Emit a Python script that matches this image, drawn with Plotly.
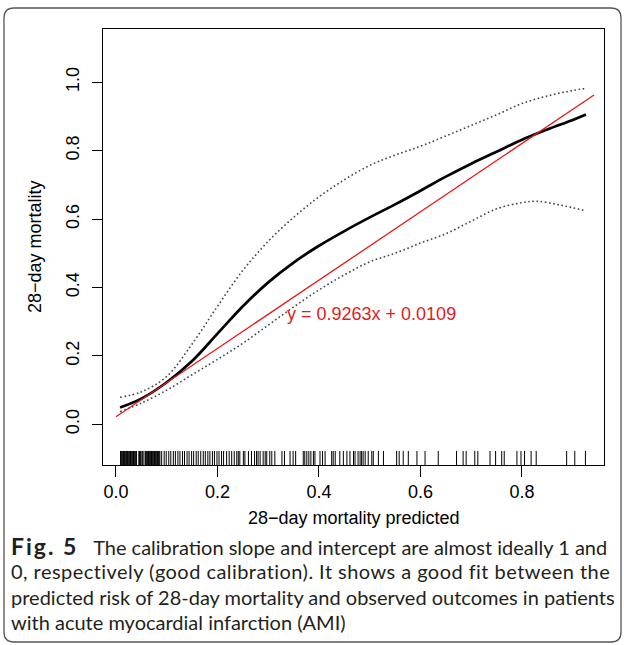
import plotly.graph_objects as go

# ---------------- data ----------------
x_ticks = [0.0, 0.2, 0.4, 0.6, 0.8]
x_tick_labels = ["0.0", "0.2", "0.4", "0.6", "0.8"]
y_ticks = [0.0, 0.2, 0.4, 0.6, 0.8, 1.0]
y_tick_labels = ["0.0", "0.2", "0.4", "0.6", "0.8", "1.0"]

curve_x = [0.008, 0.05, 0.1, 0.15, 0.2, 0.25, 0.3, 0.35, 0.4, 0.45, 0.5,
           0.55, 0.6, 0.65, 0.7, 0.75, 0.8, 0.85, 0.9, 0.926]
curve_y = [0.049, 0.075, 0.123, 0.185, 0.265, 0.345, 0.415, 0.473, 0.522, 0.565, 0.605,
           0.643, 0.683, 0.724, 0.762, 0.797, 0.832, 0.862, 0.89, 0.906]

upper_x = curve_x
upper_y = [0.079, 0.095, 0.14, 0.235, 0.345, 0.45, 0.535, 0.605, 0.665, 0.715, 0.757,
           0.787, 0.813, 0.843, 0.874, 0.905, 0.938, 0.96, 0.976, 0.982]

lower_x = [0.008, 0.05, 0.1, 0.15, 0.2, 0.25, 0.3, 0.35, 0.4, 0.45, 0.5,
           0.55, 0.6, 0.65, 0.7, 0.75, 0.8, 0.83, 0.875, 0.924]
lower_y = [0.037, 0.062, 0.1, 0.145, 0.19, 0.237, 0.29, 0.343, 0.393, 0.437, 0.475,
           0.5, 0.53, 0.557, 0.594, 0.63, 0.648, 0.652, 0.641, 0.625]

fit_x = [0.0, 0.942]
fit_y = [0.022, 0.963]
fit_label = "y = 0.9263x + 0.0109"

rug_values = [
    0.009, 0.0105, 0.012, 0.0135, 0.015, 0.0165, 0.018, 0.0195, 0.021, 0.0225,
    0.024, 0.0255, 0.027, 0.0285, 0.030, 0.0315, 0.033, 0.0345, 0.036, 0.0375,
    0.039, 0.0405, 0.045, 0.0465, 0.048, 0.0495, 0.052, 0.055, 0.058, 0.0595,
    0.061, 0.0625, 0.064, 0.0655, 0.067, 0.0685, 0.070, 0.0715, 0.073, 0.0745,
    0.076, 0.0775, 0.079, 0.0805, 0.082, 0.0835, 0.085, 0.0865,
    0.090, 0.095, 0.099, 0.104, 0.108, 0.113, 0.117, 0.122, 0.126, 0.131,
    0.135, 0.140, 0.144, 0.149, 0.153, 0.158, 0.162, 0.167, 0.172, 0.176,
    0.181, 0.185, 0.190, 0.194, 0.199, 0.203, 0.208, 0.212,
    0.218, 0.223, 0.228, 0.233, 0.238, 0.241, 0.244, 0.251, 0.254, 0.261,
    0.267, 0.273, 0.277, 0.280, 0.284, 0.290, 0.294, 0.297, 0.303, 0.307,
    0.313, 0.327, 0.332, 0.343, 0.349, 0.354, 0.369, 0.372, 0.376, 0.380,
    0.384, 0.389, 0.392, 0.402, 0.407, 0.412, 0.425, 0.428, 0.432, 0.441,
    0.448, 0.455, 0.461, 0.468, 0.471, 0.477, 0.481, 0.484, 0.487, 0.491,
    0.497, 0.504, 0.507, 0.517, 0.527, 0.553, 0.558, 0.566, 0.576, 0.593,
    0.609, 0.635, 0.671, 0.684, 0.690, 0.707, 0.713, 0.737, 0.748, 0.760,
    0.765, 0.790, 0.798, 0.805, 0.818, 0.828, 0.888, 0.904, 0.925,
]

x_title = "28\u2212day mortality predicted"
y_title = "28\u2212day mortality"
caption_lines = [
    "<span style='font-size:23px;letter-spacing:2px'><b>Fig.\u00a05</b></span>\u00a0\u00a0\u00a0The calibration slope and intercept are almost ideally 1 and",
    "<span style='letter-spacing:0.45px'>0, respectively (good calibration). It shows a good fit between the</span>",
    "predicted risk of 28-day mortality and observed outcomes in patients",
    "with acute myocardial infarction (AMI)",
]

# ---------------- layout geometry ----------------
W, H = 624, 645
ML, MR, MT, MB = 103, 20, 29, 180
PW, PH = W - ML - MR, H - MT - MB
XR = [-0.0256, 0.9616]
YR = [-0.119, 1.1558]
RUG_TOP = -0.078


def px_x(px):
    return (px - ML) / PW


def px_y(py):
    return (H - MB - py) / PH


AX_FONT = dict(family="Liberation Sans, Arial, sans-serif", size=18, color="black")

fig = go.Figure()

# rug
rx, ry = [], []
for v in rug_values:
    rx += [v, v, None]
    ry += [YR[0], RUG_TOP, None]
fig.add_trace(go.Scatter(x=rx, y=ry, mode="lines",
                         line=dict(color="black", width=1), hoverinfo="skip"))

# confidence bands
fig.add_trace(go.Scatter(x=upper_x, y=upper_y, mode="lines",
                         line=dict(color="#444444", width=1.6, dash="1.6px,2.6px", shape="spline")))
fig.add_trace(go.Scatter(x=lower_x, y=lower_y, mode="lines",
                         line=dict(color="#444444", width=1.6, dash="1.6px,2.6px", shape="spline")))
# calibration curve
fig.add_trace(go.Scatter(x=curve_x, y=curve_y, mode="lines",
                         line=dict(color="black", width=2.7, shape="spline")))
# fitted line
fig.add_trace(go.Scatter(x=fit_x, y=fit_y, mode="lines",
                         line=dict(color="#e41a1c", width=1.3)))

fig.add_annotation(x=0.503, y=0.323, xref="x", yref="y", text=fit_label,
                   showarrow=False, font=dict(family=AX_FONT["family"], size=18, color="#e41a1c"))

# axis titles
fig.add_annotation(x=0.5, y=px_y(518), xref="paper", yref="paper", text=x_title,
                   showarrow=False, font=AX_FONT, xanchor="center", yanchor="middle")
fig.add_annotation(x=px_x(35), y=0.5, xref="paper", yref="paper", text=y_title,
                   showarrow=False, font=AX_FONT, textangle=-90, xanchor="center", yanchor="middle")

# caption
cap_y = [546, 571, 597, 622]
for line, cy in zip(caption_lines, cap_y):
    fig.add_annotation(x=px_x(9), y=px_y(cy), xref="paper", yref="paper", text=line,
                       showarrow=False, xanchor="left", yanchor="middle",
                       font=dict(family="Lato, Open Sans, sans-serif", size=20, color="#231f20"))

# outer rounded border
x0, x1, y0, y1, r = 4, 621, 8, 642, 10
path = (f"M {px_x(x0 + r)},{px_y(y0)} L {px_x(x1 - r)},{px_y(y0)} "
        f"Q {px_x(x1)},{px_y(y0)} {px_x(x1)},{px_y(y0 + r)} "
        f"L {px_x(x1)},{px_y(y1 - r)} Q {px_x(x1)},{px_y(y1)} {px_x(x1 - r)},{px_y(y1)} "
        f"L {px_x(x0 + r)},{px_y(y1)} Q {px_x(x0)},{px_y(y1)} {px_x(x0)},{px_y(y1 - r)} "
        f"L {px_x(x0)},{px_y(y0 + r)} Q {px_x(x0)},{px_y(y0)} {px_x(x0 + r)},{px_y(y0)} Z")
fig.add_shape(type="path", path=path, xref="paper", yref="paper",
              line=dict(color="#555555", width=1.3), layer="below")

fig.update_layout(
    width=W, height=H,
    margin=dict(l=ML, r=MR, t=MT, b=MB, pad=0),
    plot_bgcolor="white", paper_bgcolor="white",
    showlegend=False,
    xaxis=dict(range=XR, tickvals=x_ticks, ticktext=x_tick_labels, ticks="outside",
               ticklen=11, tickwidth=1, tickcolor="black", showline=True, mirror=True,
               linecolor="black", linewidth=1.2, showgrid=False, zeroline=False,
               tickfont=AX_FONT, ticklabelstandoff=-1),
    yaxis=dict(range=YR, tickvals=y_ticks, ticktext=y_tick_labels, ticks="outside",
               ticklen=10, tickwidth=1, tickcolor="black", showline=True, mirror=True,
               linecolor="black", linewidth=1.2, showgrid=False, zeroline=False,
               tickfont=AX_FONT, tickangle=-90, ticklabelstandoff=6),
)

fig.write_html("out.html")
